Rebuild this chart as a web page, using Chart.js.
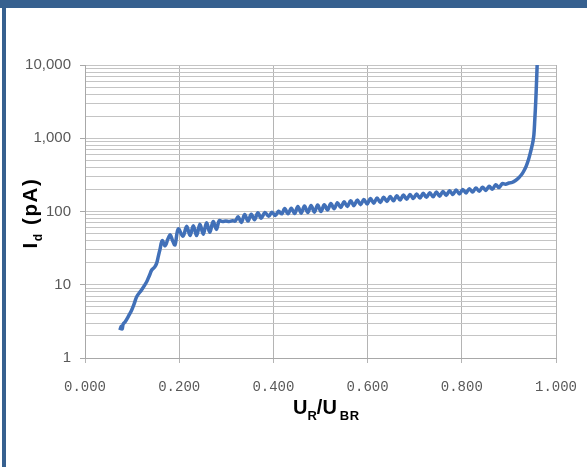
<!DOCTYPE html>
<html>
<head>
<meta charset="utf-8">
<script src="https://cdn.jsdelivr.net/npm/chart.js@4/dist/chart.umd.min.js"></script>
<style>
  html, body { margin: 0; padding: 0; background: #ffffff; }
  #wrap { position: relative; width: 587px; height: 467px; overflow: hidden; background: #fff; }
  #c { position: absolute; left: 0; top: 0; }
  .band { position: absolute; background: #36608F; z-index: 3; }
  .title { position: absolute; font-family: "Liberation Sans", Arial, sans-serif; font-weight: bold; color: #000; white-space: nowrap; z-index: 2; }
  .title .sb { font-size: 13px; position: relative; top: 6px; }
</style>
</head>
<body>
<div id="wrap">
  <canvas id="c" width="587" height="467"></canvas>
  <div class="band" style="left:0;top:0;width:587px;height:8px;"></div>
  <div class="band" style="left:2px;top:0;width:4px;height:467px;"></div>
  <div class="title" id="ytitle" style="font-size:20.5px;letter-spacing:1.6px;left:-30px;top:198px;width:120px;height:30px;line-height:30px;text-align:center;transform:rotate(-90deg);">I<span class="sb" style="font-size:12px;top:5px;">d</span> (pA)</div>
  <div class="title" id="xtitle" style="font-size:20px;left:293px;top:395px;line-height:24px;">U<span class="sb">R</span>/U<span class="sb" style="margin-left:3px;letter-spacing:0.5px;">BR</span></div>
</div>
<script>
// ---- data ----
const xValues = [
  0.074, 0.077, 0.079, 0.081, 0.085, 0.092, 0.099, 0.104, 0.110, 0.120,
  0.131, 0.137, 0.142, 0.148, 0.152, 0.156, 0.159, 0.164, 0.170, 0.176,
  0.181, 0.186, 0.191, 0.198, 0.208, 0.216, 0.223, 0.230, 0.237, 0.244,
  0.251, 0.258, 0.265, 0.272, 0.279, 0.285, 0.292, 0.299, 0.306, 0.313,
  0.319, 0.325, 0.332, 0.339, 0.346, 0.353, 0.360, 0.367, 0.374, 0.382,
  0.390, 0.397, 0.404, 0.411, 0.418, 0.424, 0.431, 0.438, 0.445, 0.452,
  0.459, 0.466, 0.473, 0.480, 0.487, 0.494, 0.501, 0.508, 0.515, 0.522,
  0.529, 0.536, 0.543, 0.550, 0.557, 0.564, 0.571, 0.578, 0.585, 0.592,
  0.599, 0.606, 0.613, 0.620, 0.627, 0.634, 0.641, 0.648, 0.655, 0.662,
  0.669, 0.676, 0.683, 0.690, 0.697, 0.704, 0.711, 0.718, 0.725, 0.732,
  0.739, 0.746, 0.753, 0.760, 0.767, 0.774, 0.781, 0.788, 0.795, 0.802,
  0.809, 0.816, 0.823, 0.830, 0.837, 0.844, 0.851, 0.858, 0.865, 0.872,
  0.879, 0.886, 0.893, 0.900, 0.907, 0.914, 0.921, 0.927, 0.932, 0.937,
  0.942, 0.946, 0.949, 0.951, 0.953, 0.955, 0.957, 0.9585, 0.960
];
const idValues = [
  2.4, 2.7, 2.5, 2.9, 3.1, 3.7, 4.5, 5.4, 6.9, 8.5,
  11, 13.5, 16, 17.5, 19.6, 25, 30, 40, 34, 42,
  48, 40, 35, 58, 46, 63, 47, 64, 47, 67,
  49, 70, 52, 73, 57, 75, 73, 74, 73, 75,
  74, 85, 71, 91, 74, 92, 77, 96, 81, 97,
  86, 98, 88, 101, 93, 110, 93, 111, 94, 117,
  95, 119, 97, 121, 98, 123, 100, 124, 105, 129,
  109, 132, 113, 136, 117, 140, 120, 143, 124, 146,
  127, 150, 130, 153, 133, 157, 137, 160, 140, 164,
  144, 168, 147, 171, 150, 173, 153, 177, 156, 180,
  159, 184, 162, 188, 166, 192, 171, 196, 174, 200,
  179, 205, 184, 210, 189, 215, 194, 222, 202, 232,
  212, 240, 236, 245, 250, 265, 290, 320, 360, 420,
  520, 650, 780, 900, 1100, 1800, 3200, 5500, 10000
];
const xTickValues = [0, 0.2, 0.4, 0.6, 0.8, 1.0];
const xTickLabels = ["0.000", "0.200", "0.400", "0.600", "0.800", "1.000"];
const yMajorTicks = [1, 10, 100, 1000, 10000];
const yTickLabels = ["1", "10", "100", "1,000", "10,000"];
const yGridValues = [
  1, 2, 3, 4, 5, 6, 7, 8, 9,
  10, 20, 30, 40, 50, 60, 70, 80, 90,
  100, 200, 300, 400, 500, 600, 700, 800, 900,
  1000, 2000, 3000, 4000, 5000, 6000, 7000, 8000, 9000,
  10000
];

const points = xValues.map((x, i) => ({ x: x, y: idValues[i] }));
const isMajorY = v => yMajorTicks.some(m => Math.abs(m - v) < 1e-6);

new Chart(document.getElementById('c'), {
  type: 'line',
  data: {
    datasets: [{
      data: points,
      borderColor: '#4170B8',
      borderWidth: 3.5,
      pointRadius: 0,
      tension: 0.35,
      fill: false
    }]
  },
  options: {
    responsive: false,
    animation: false,
    events: [],
    layout: { padding: { left: 0, top: 65, right: 31, bottom: 49 } },
    plugins: { legend: { display: false }, tooltip: { enabled: false }, title: { display: false } },
    scales: {
      x: {
        type: 'linear',
        min: 0, max: 1,
        afterBuildTicks: s => { s.ticks = xTickValues.map(v => ({ value: v })); },
        afterFit: s => { s.height = 60; s.paddingLeft = 0; s.paddingRight = 0; },
        grid: { color: '#B4B4B4', lineWidth: 1, drawTicks: true, tickLength: 5, tickColor: '#B4B4B4' },
        border: { display: true, color: '#A8A8A8', width: 1 },
        ticks: {
          autoSkip: false, maxRotation: 0, padding: 16,
          color: '#595959',
          font: { family: '"Liberation Mono", "Courier New", monospace', size: 14 },
          callback: (v) => { const i = xTickValues.findIndex(t => Math.abs(t - v) < 1e-9); return i >= 0 ? xTickLabels[i] : ''; }
        }
      },
      y: {
        type: 'logarithmic',
        min: 1, max: 10000,
        afterBuildTicks: s => { s.ticks = yGridValues.map(v => ({ value: v, major: isMajorY(v) })); },
        afterFit: s => { s.width = 85; },
        grid: {
          color: '#C4C4C4', lineWidth: 1, drawTicks: true, tickLength: 5,
          tickColor: ctx => (ctx.tick && isMajorY(ctx.tick.value)) ? '#A8A8A8' : 'rgba(0,0,0,0)'
        },
        border: { display: true, color: '#A8A8A8', width: 1 },
        ticks: {
          autoSkip: false, padding: 9,
          color: '#595959',
          font: { family: '"Liberation Sans", Arial, sans-serif', size: 15 },
          callback: (v) => { const i = yMajorTicks.findIndex(m => Math.abs(m - v) < 1e-6); return i >= 0 ? yTickLabels[i] : ''; }
        }
      }
    }
  }
});
</script>
</body>
</html>
